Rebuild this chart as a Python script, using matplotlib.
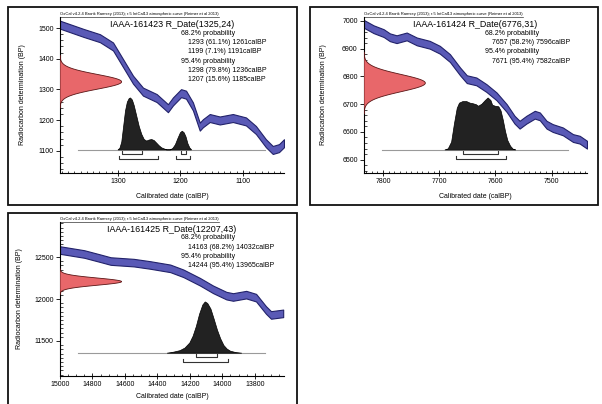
import numpy as np
import matplotlib
matplotlib.use('Agg')
import matplotlib.pyplot as plt
from matplotlib.ticker import MultipleLocator
import matplotlib.transforms as mtrans
from matplotlib.patches import Rectangle
from matplotlib.lines import Line2D

plt.rcParams['font.family'] = ['Liberation Sans', 'DejaVu Sans']

# ---------------- data ----------------
CAPTION = "OxCal v4.2.4 Bronk Ramsey (2013); r:5 IntCal13 atmospheric curve (Reimer et al 2013)"
XLABEL = "Calibrated date (calBP)"
YLABEL = "Radiocarbon determination (BP)"

# Panel 1
p1_title = "IAAA-161423 R_Date(1325,24)"
p1_r_mean, p1_r_sd = 1325, 24
p1_curve_year = [1393, 1355, 1329, 1308, 1292, 1276, 1260, 1238, 1220, 1212, 1199, 1191, 1180,
                 1169, 1164, 1153, 1137, 1116, 1095, 1079, 1063, 1052, 1042, 1034]
p1_curve_bp = [1511, 1484, 1467, 1440, 1386, 1332, 1293, 1272, 1239, 1261, 1288, 1283, 1245,
               1179, 1190, 1207, 1199, 1207, 1196, 1168, 1125, 1103, 1109, 1125]
p1_curve_err = 13
p1_dens_year = [1300, 1297, 1294, 1291, 1288, 1285, 1282, 1280, 1277, 1274, 1270, 1266, 1262, 1258,
                1254, 1250, 1246, 1242, 1238, 1234, 1230, 1226, 1222, 1216, 1212, 1208, 1204, 1200,
                1197, 1194, 1191, 1188, 1185, 1182]
p1_dens = [0, 0.03, 0.15, 0.45, 0.75, 0.92, 0.99, 1.0, 0.96, 0.85, 0.65, 0.45, 0.3, 0.2,
           0.17, 0.19, 0.2, 0.18, 0.13, 0.08, 0.04, 0.02, 0.0, 0.0, 0.03, 0.1, 0.22, 0.33,
           0.36, 0.33, 0.25, 0.12, 0.04, 0.0]
p1_r68 = [(1293, 1261), (1199, 1191)]
p1_p68 = [61.1, 7.1]
p1_r95 = [(1298, 1236), (1207, 1185)]
p1_p95 = [79.8, 15.6]
p1_xlim = (1393, 1034)
p1_ylim = (1028, 1536)
p1_xticks = [1300, 1200, 1100]
p1_yticks = [1100, 1200, 1300, 1400, 1500]

# Panel 2
p2_title = "IAAA-161424 R_Date(6776,31)"
p2_r_mean, p2_r_sd = 6776, 31
p2_curve_year = [7834, 7817, 7799, 7788, 7776, 7758, 7740, 7717, 7699, 7681, 7663, 7651, 7634, 7616,
                 7598, 7580, 7566, 7557, 7545, 7530, 7521, 7509, 7498, 7480, 7462, 7450, 7437]
p2_curve_bp = [6989, 6970, 6956, 6941, 6934, 6944, 6926, 6914, 6896, 6866, 6818, 6790, 6782, 6758,
               6728, 6686, 6644, 6626, 6644, 6662, 6656, 6626, 6614, 6602, 6578, 6572, 6554]
p2_curve_err = 14
p2_dens_year = [7690, 7684, 7678, 7673, 7668, 7664, 7658, 7651, 7645, 7640, 7634, 7630, 7624, 7618,
                7613, 7608, 7605, 7600, 7594, 7590, 7586, 7582, 7578, 7573, 7568, 7564]
p2_dens = [0, 0.02, 0.15, 0.5, 0.8, 0.9, 0.93, 0.93, 0.9, 0.89, 0.87, 0.84, 0.88, 0.95,
           1.0, 0.95, 0.86, 0.84, 0.83, 0.75, 0.57, 0.35, 0.18, 0.07, 0.01, 0]
p2_r68 = [(7657, 7596)]
p2_p68 = [58.2]
p2_r95 = [(7671, 7582)]
p2_p95 = [95.4]
p2_xlim = (7834, 7437)
p2_ylim = (6452, 7014)
p2_xticks = [7800, 7700, 7600, 7500]
p2_yticks = [6500, 6600, 6700, 6800, 6900, 7000]

# Panel 3
p3_title = "IAAA-161425 R_Date(12207,43)"
p3_r_mean, p3_r_sd = 12207, 43
p3_curve_year = [15000, 14851, 14749, 14688, 14545, 14444, 14321, 14240, 14138, 14057, 13975,
                 13934, 13853, 13792, 13731, 13700, 13625]
p3_curve_bp = [12583, 12536, 12484, 12452, 12433, 12405, 12365, 12306, 12206, 12115, 12040,
               12024, 12052, 12016, 11869, 11810, 11829]
p3_curve_err = 45
p3_dens_year = [14340, 14300, 14260, 14230, 14200, 14180, 14160, 14140, 14120, 14105, 14090,
                14070, 14050, 14030, 14010, 13990, 13970, 13950, 13920, 13880]
p3_dens = [0, 0.02, 0.05, 0.1, 0.2, 0.33, 0.52, 0.76, 0.94, 1.0, 0.97,
           0.86, 0.66, 0.45, 0.28, 0.15, 0.08, 0.04, 0.015, 0]
p3_r68 = [(14163, 14032)]
p3_p68 = [68.2]
p3_r95 = [(14244, 13965)]
p3_p95 = [95.4]
p3_xlim = (15000, 13620)
p3_ylim = (11083, 12917)
p3_xticks = [15000, 14800, 14600, 14400, 14200, 14000, 13800]
p3_yticks = [11500, 12000, 12500]

# ---------------- layout ----------------
W, H = 602, 404
fig = plt.figure(figsize=(W / 100, H / 100), dpi=100)


def rect(l, t, r, b):
    return [l / W, 1 - b / H, (r - l) / W, (b - t) / H]


def border(l, t, r, b):
    fig.add_artist(Rectangle((l / W, 1 - b / H), (r - l) / W, (b - t) / H,
                             transform=fig.transFigure, fill=False,
                             ec='#111111', lw=1.3))


BLUE_FILL = '#5a5ab6'
BLUE_EDGE = '#22226a'
RED_FILL = '#e8676a'
RED_EDGE = '#5a1515'
DARK = '#222222'


def panel(axr, title, mean, sd, cyear, cbp, cerr, dyear, dens, r68, p68, r95, p95,
          xlim, ylim, xticks, yticks, xminor, yminor, ylab_x, xlab_y):
    ax = fig.add_axes(axr)
    cyear = np.array(cyear, float)
    cbp = np.array(cbp, float)
    ax.fill_between(cyear, cbp - cerr, cbp + cerr, facecolor=BLUE_FILL,
                    edgecolor=BLUE_EDGE, lw=0.8, zorder=2)
    # radiocarbon date distribution on the y axis
    ty = mtrans.blended_transform_factory(ax.transAxes, ax.transData)
    yy = np.linspace(mean - 3.6 * sd, mean + 3.6 * sd, 200)
    ww = np.exp(-0.5 * ((yy - mean) / sd) ** 2) * 0.275
    ax.fill(np.r_[0, ww, 0], np.r_[yy[0], yy, yy[-1]], transform=ty,
            facecolor=RED_FILL, edgecolor=RED_EDGE, lw=0.6, zorder=3)
    # calibrated distribution
    tx = mtrans.blended_transform_factory(ax.transData, ax.transAxes)
    base = 0.148
    hmax = 0.333
    ax.plot([0.08, 0.917], [base, base], transform=ax.transAxes,
            color='#9a9a9a', lw=0.8, zorder=3)
    dd = base + np.array(dens) * hmax
    ax.fill(np.r_[dyear[0], dyear, dyear[-1]], np.r_[base, dd, base], transform=tx,
            facecolor=DARK, edgecolor='black', lw=0.5, zorder=4)
    # ranges
    for rng, yl in ((r68, 0.124), (r95, 0.092)):
        for a, b in rng:
            ax.plot([a, a, b, b], [yl + 0.016, yl, yl, yl + 0.016], transform=tx,
                    color='#333333', lw=0.8, zorder=4)
    ax.set_xlim(*xlim)
    ax.set_ylim(*ylim)
    ax.set_xticks(xticks)
    ax.set_yticks(yticks)
    ax.xaxis.set_minor_locator(MultipleLocator(xminor))
    ax.yaxis.set_minor_locator(MultipleLocator(yminor))
    for s in ('top', 'right'):
        ax.spines[s].set_visible(False)
    for s in ('left', 'bottom'):
        ax.spines[s].set_linewidth(0.8)
    ax.tick_params(axis='y', which='major', direction='out', length=3, width=0.6,
                   pad=1.5, labelsize=5)
    ax.tick_params(axis='x', which='major', direction='inout', length=4, width=0.6,
                   pad=1.5, labelsize=5)
    ax.tick_params(which='minor', direction='in', length=1.8, width=0.5)
    ax.set_xlabel(XLABEL, fontsize=5)
    ax.set_ylabel(YLABEL, fontsize=5)
    ax.yaxis.set_label_coords(ylab_x, 0.5)
    ax.xaxis.set_label_coords(0.5, xlab_y)
    # texts
    ax.text(0.5, 0.950, title, transform=ax.transAxes, ha='center', va='center',
            fontsize=6.4, zorder=6)
    lines = [("68.2% probability", 0)]
    for (a, b), p in zip(r68, p68):
        lines.append((f"{a} ({p}%) {b}calBP", 1))
    lines.append(("95.4% probability", 0))
    for (a, b), p in zip(r95, p95):
        lines.append((f"{a} ({p}%) {b}calBP", 1))
    y0 = 0.897
    for i, (s, ind) in enumerate(lines):
        ax.text(0.542 + ind * 0.031, y0 - i * 0.060, s, transform=ax.transAxes,
                ha='left', va='center', fontsize=5, zorder=6)
    cap = ax.text(0.0, 1.006, CAPTION, transform=ax.transAxes, ha='left', va='bottom',
                  fontsize=3, zorder=6)
    return ax, cap


border(8, 7, 297, 205)
border(310, 7, 598, 205)
border(8, 213, 297, 410)

a1, c1 = panel(rect(60, 17, 284, 173), p1_title, p1_r_mean, p1_r_sd, p1_curve_year, p1_curve_bp,
               p1_curve_err, p1_dens_year, p1_dens, p1_r68, p1_p68, p1_r95, p1_p95,
               p1_xlim, p1_ylim, p1_xticks, p1_yticks, 10, 20, -0.15, -0.128)
a2, c2 = panel(rect(364, 17, 587, 173), p2_title, p2_r_mean, p2_r_sd, p2_curve_year, p2_curve_bp,
               p2_curve_err, p2_dens_year, p2_dens, p2_r68, p2_p68, p2_r95, p2_p95,
               p2_xlim, p2_ylim, p2_xticks, p2_yticks, 10, 20, -0.165, -0.128)
a3, c3 = panel(rect(60, 222, 284, 376), p3_title, p3_r_mean, p3_r_sd, p3_curve_year, p3_curve_bp,
               p3_curve_err, p3_dens_year, p3_dens, p3_r68, p3_p68, p3_r95, p3_p95,
               p3_xlim, p3_ylim, p3_xticks, p3_yticks, 50, 50, -0.165, -0.113)

# underline the captions
fig.canvas.draw()
for ax, cap in ((a1, c1), (a2, c2), (a3, c3)):
    bb = cap.get_window_extent()
    inv = ax.transAxes.inverted()
    x1 = inv.transform((bb.x1, bb.y0))[0]
    ax.add_line(Line2D([0, x1], [1.002, 1.002], transform=ax.transAxes,
                       color='#333333', lw=0.5, clip_on=False))

fig.savefig('out.png', dpi=100)
